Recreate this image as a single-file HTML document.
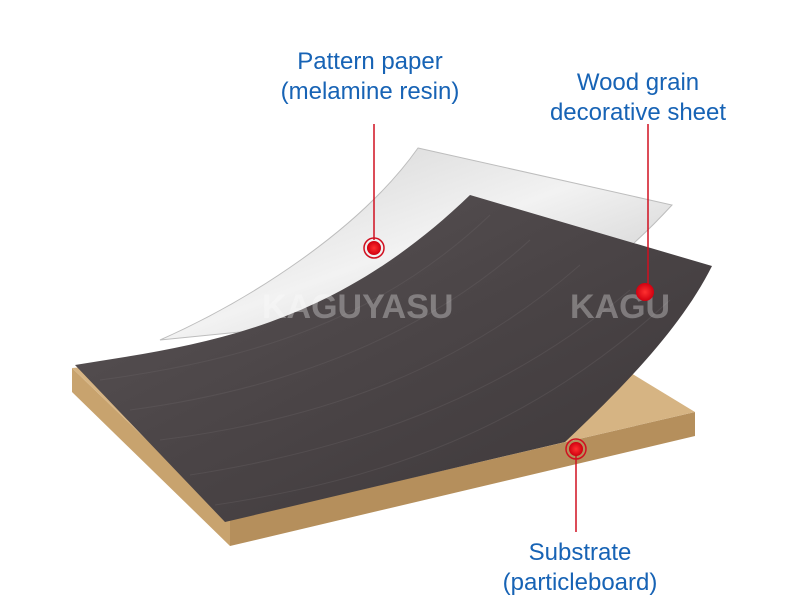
<!DOCTYPE html>
<html><head><meta charset="utf-8"><style>
html,body{margin:0;padding:0;background:#fff;}
svg{display:block}
text{font-family:"Liberation Sans","DejaVu Sans",sans-serif;}
</style></head><body>
<svg width="800" height="612" viewBox="0 0 800 612" xmlns="http://www.w3.org/2000/svg">
<defs>
<linearGradient id="wp" x1="0" y1="0" x2="1" y2="1">
<stop offset="0" stop-color="#cfcfcf"/><stop offset="0.5" stop-color="#f2f2f2"/><stop offset="1" stop-color="#c4c4c4"/>
</linearGradient>
<linearGradient id="wd" x1="0" y1="0" x2="1" y2="1">
<stop offset="0" stop-color="#5a5456"/><stop offset="0.5" stop-color="#4a4446"/><stop offset="1" stop-color="#3c3739"/>
</linearGradient>
<radialGradient id="rd"><stop offset="0" stop-color="#ff3030"/><stop offset="1" stop-color="#d00010"/></radialGradient>
</defs>
<rect width="800" height="612" fill="#fff"/>
<polygon points="72,368 230,520 230,546 72,392" fill="#c8a36e"/>
<polygon points="230,520 695,412 695,436 230,546" fill="#b58f5c"/>
<polygon points="72,368 560,330 695,412 230,520" fill="#d6b483"/>
<path d="M418,148 L672,205 C640,240 600,275 560,300 L160,340 C250,300 360,230 418,148 Z" fill="url(#wp)" stroke="#bdbdbd" stroke-width="1"/>
<path d="M75,365 C200,345 330,330 470,195 L712,266 C680,330 620,390 565,442 L225,522 Z" fill="url(#wd)"/>
<g stroke="#6a6466" stroke-width="1" opacity="0.35" fill="none">
<path d="M100,380 C250,360 380,320 490,215"/>
<path d="M130,410 C280,390 420,340 530,240"/>
<path d="M160,440 C320,420 460,370 580,265"/>
<path d="M190,475 C350,450 500,400 630,290"/>
<path d="M215,505 C380,480 530,430 670,300"/>
</g>
<text x="262" y="318" font-size="34" font-weight="bold" fill="#ffffff" opacity="0.3">KAGUYASU</text>
<text x="570" y="318" font-size="34" font-weight="bold" fill="#ffffff" opacity="0.3">KAGU</text>
<g stroke="#d01020" stroke-width="1.5">
<line x1="374" y1="124" x2="374" y2="240"/>
<line x1="648" y1="124" x2="648" y2="286"/>
<line x1="576" y1="455" x2="576" y2="532"/>
</g>
<circle cx="374" cy="248" r="10" fill="none" stroke="#d01020" stroke-width="1.5"/>
<circle cx="374" cy="248" r="7" fill="url(#rd)"/>
<circle cx="645" cy="292" r="9" fill="url(#rd)"/>
<circle cx="576" cy="449" r="10" fill="none" stroke="#d01020" stroke-width="1.5"/>
<circle cx="576" cy="449" r="7" fill="url(#rd)"/>
<g fill="#1763b5" font-size="24" text-anchor="middle">
<text x="370" y="69">Pattern paper</text>
<text x="370" y="99">(melamine resin)</text>
<text x="638" y="90">Wood grain</text>
<text x="638" y="120">decorative sheet</text>
<text x="580" y="560">Substrate</text>
<text x="580" y="590">(particleboard)</text>
</g>
</svg>
</body></html>
